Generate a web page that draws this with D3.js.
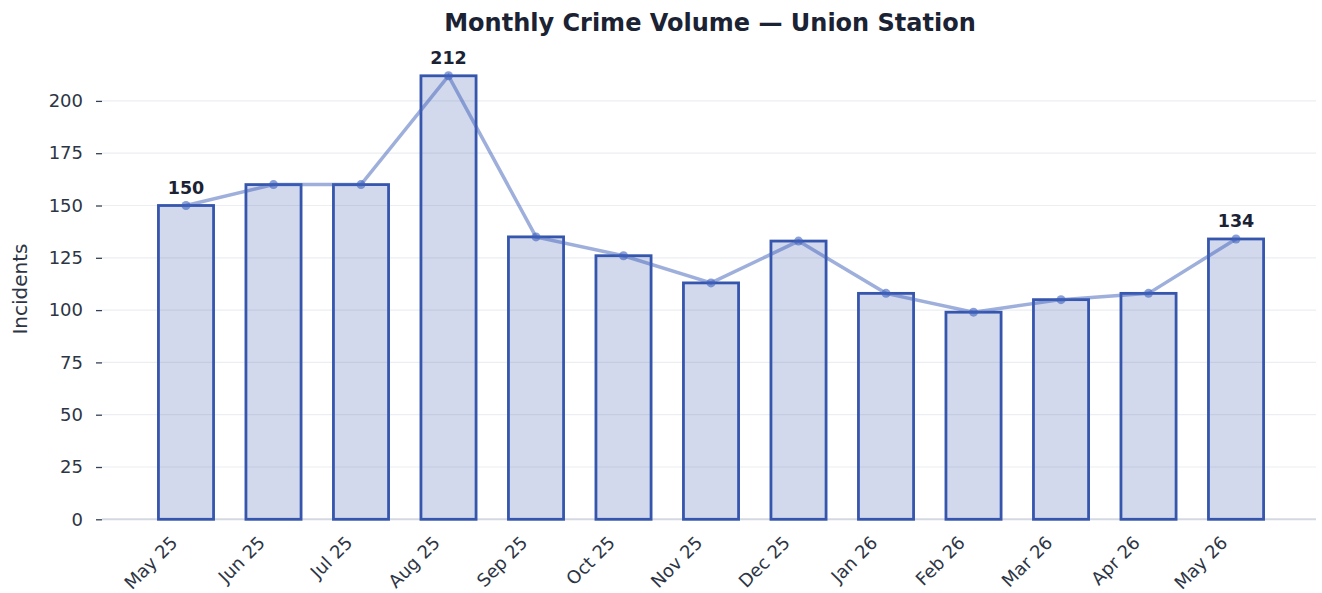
<!DOCTYPE html>
<html>
<head>
<meta charset="utf-8">
<script src="https://cdn.jsdelivr.net/npm/d3@7"></script>
<style>
  body { margin: 0; background: #fff; }
  svg { font-family: "DejaVu Sans", sans-serif; }
</style>
</head>
<body>
<svg id="chart" width="1322" height="593"></svg>
<script>
// chart data
const months = ['May 25', 'Jun 25', 'Jul 25', 'Aug 25', 'Sep 25', 'Oct 25', 'Nov 25',
                'Dec 25', 'Jan 26', 'Feb 26', 'Mar 26', 'Apr 26', 'May 26'];
const incidents = [150, 160, 160, 212, 135, 126, 113, 133, 108, 99, 105, 108, 134];
const yTicks = [0, 25, 50, 75, 100, 125, 150, 175, 200];
const labelled = [0, 3, 12]; // first, peak, last

const svg = d3.select('#chart');
const plotLeft = 102, plotRight = 1316, plotBottom = 519.3;

const x = d3.scaleLinear().domain([-0.96, 12.914]).range([plotLeft, plotRight]);
const y = d3.scaleLinear().domain([0, 200]).range([plotBottom, 100.9]);
const barW = 0.63;

// gridlines
svg.append('g')
  .selectAll('line')
  .data(yTicks.slice(1))
  .join('line')
  .attr('x1', plotLeft).attr('x2', plotRight)
  .attr('y1', d => y(d)).attr('y2', d => y(d))
  .attr('stroke', '#eceef2').attr('stroke-width', 1.2);

// y axis
const yAxis = svg.append('g')
  .attr('transform', `translate(${plotLeft},0)`)
  .call(d3.axisLeft(y).tickValues(yTicks).tickSize(6).tickPadding(13));
yAxis.select('.domain').remove();
yAxis.selectAll('line').attr('stroke', '#334155').attr('stroke-width', 1.3);
yAxis.selectAll('text').attr('font-size', 18).attr('fill', '#2d3545')
  .attr('font-family', '"DejaVu Sans", sans-serif');

// bottom spine
svg.append('line')
  .attr('x1', plotLeft).attr('x2', plotRight)
  .attr('y1', plotBottom).attr('y2', plotBottom)
  .attr('stroke', '#d4d8e1').attr('stroke-width', 2);

// bars
svg.append('g')
  .selectAll('rect')
  .data(incidents)
  .join('rect')
  .attr('x', (d, i) => x(i - barW / 2))
  .attr('width', x(barW) - x(0))
  .attr('y', d => y(d))
  .attr('height', d => y(0) - y(d))
  .attr('fill', 'rgba(61, 90, 176, 0.23)')
  .attr('stroke', '#3656ae')
  .attr('stroke-width', 2.8);

// trend line
const line = d3.line().x((d, i) => x(i)).y(d => y(d));
svg.append('path')
  .datum(incidents)
  .attr('d', line)
  .attr('fill', 'none')
  .attr('stroke', 'rgba(61, 96, 186, 0.5)')
  .attr('stroke-width', 3.5);

svg.append('g')
  .selectAll('circle')
  .data(incidents)
  .join('circle')
  .attr('cx', (d, i) => x(i))
  .attr('cy', d => y(d))
  .attr('r', 4.5)
  .attr('fill', 'rgba(61, 96, 186, 0.6)');

// value labels
svg.append('g')
  .selectAll('text')
  .data(labelled)
  .join('text')
  .attr('x', i => x(i))
  .attr('y', i => y(incidents[i]) - 12)
  .attr('text-anchor', 'middle')
  .attr('font-size', 17.5)
  .attr('font-weight', 'bold')
  .attr('fill', '#1a2233')
  .text(i => incidents[i]);

// x labels
svg.append('g')
  .selectAll('text')
  .data(months)
  .join('text')
  .attr('transform', (d, i) => `translate(${x(i) - 17},${plotBottom + 15}) rotate(-45)`)
  .attr('text-anchor', 'end')
  .attr('dominant-baseline', 'hanging')
  .attr('font-size', 18)
  .attr('fill', '#2d3545')
  .text(d => d);

// title
svg.append('text')
  .attr('x', 710).attr('y', 31)
  .attr('text-anchor', 'middle')
  .attr('font-size', 24)
  .attr('font-weight', 'bold')
  .attr('fill', '#1a2233')
  .text('Monthly Crime Volume — Union Station');

// y label
svg.append('text')
  .attr('transform', 'translate(27,289) rotate(-90)')
  .attr('text-anchor', 'middle')
  .attr('font-size', 20)
  .attr('fill', '#2d3545')
  .text('Incidents');
</script>
</body>
</html>
